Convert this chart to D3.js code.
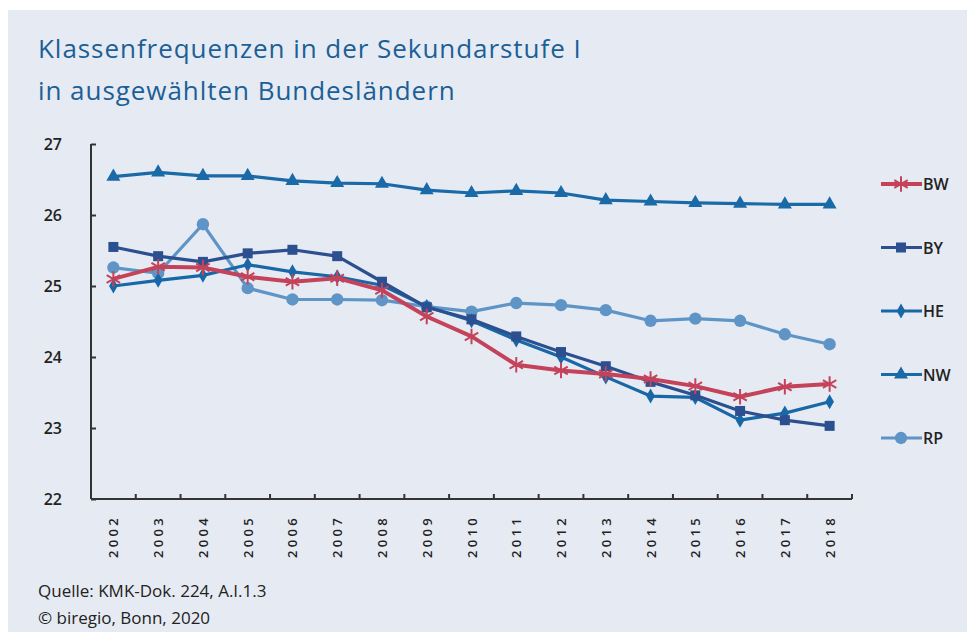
<!DOCTYPE html>
<html>
<head>
<meta charset="utf-8">
<script src="https://cdn.jsdelivr.net/npm/d3@7"></script>
<style>
  body { margin: 0; background: #fff; }
  svg { display: block; }
</style>
</head>
<body>
<svg width="967" height="632"></svg>
<script>
var years = ["2002","2003","2004","2005","2006","2007","2008","2009","2010",
             "2011","2012","2013","2014","2015","2016","2017","2018"];
var yTicks = [22, 23, 24, 25, 26, 27];

var BW = [25.10, 25.27, 25.26, 25.13, 25.06, 25.11, 24.94, 24.57, 24.29, 23.89, 23.81, 23.76, 23.69, 23.59, 23.44, 23.58, 23.62];
var BY = [25.55, 25.42, 25.34, 25.46, 25.51, 25.42, 25.06, 24.70, 24.53, 24.29, 24.07, 23.87, 23.65, 23.46, 23.24, 23.11, 23.03];
var HE = [25.00, 25.08, 25.15, 25.30, 25.20, 25.13, 25.01, 24.71, 24.51, 24.24, 24.00, 23.72, 23.45, 23.43, 23.11, 23.21, 23.37];
var NW = [26.54, 26.60, 26.55, 26.55, 26.48, 26.45, 26.44, 26.35, 26.31, 26.34, 26.31, 26.21, 26.19, 26.17, 26.16, 26.15, 26.15];
var RP = [25.26, 25.18, 25.87, 24.97, 24.81, 24.81, 24.80, 24.71, 24.64, 24.76, 24.73, 24.66, 24.51, 24.54, 24.51, 24.32, 24.18];

var series = [
    {name: "BW", values: BW, color: "#c4435a", width: 4, symbol: "star"},
    {name: "BY", values: BY, color: "#2c4f8f", width: 3.2, symbol: "square"},
    {name: "HE", values: HE, color: "#1867a6", width: 3.2, symbol: "diamond"},
    {name: "NW", values: NW, color: "#1a6aa8", width: 3.2, symbol: "triangle"},
    {name: "RP", values: RP, color: "#5f95c6", width: 3.2, symbol: "circle"}
];

var svg = d3.select("svg");

// panel
svg.append("rect")
    .attr("x", 8).attr("y", 10)
    .attr("width", 967).attr("height", 632)
    .attr("fill", "#e6ebf3");

var titleFont = "'Open Sans', sans-serif";
svg.append("text")
    .attr("x", 38).attr("y", 58)
    .attr("fill", "#1c5f97")
    .attr("font-family", titleFont)
    .attr("font-size", 26)
    .attr("letter-spacing", 0.95)
    .text("Klassenfrequenzen in der Sekundarstufe I");
svg.append("text")
    .attr("x", 38).attr("y", 100)
    .attr("fill", "#1c5f97")
    .attr("font-family", titleFont)
    .attr("font-size", 26)
    .attr("letter-spacing", 0.95)
    .text("in ausgewählten Bundesländern");

var x = d3.scaleBand().domain(years).range([91, 852]);
var y = d3.scaleLinear().domain([22, 27]).range([499, 144]);

var axisColor = "#333";

// y axis
var gy = svg.append("g").attr("transform", "translate(91,0)")
    .call(d3.axisLeft(y).tickValues(yTicks).tickFormat(d3.format("d"))
        .tickSize(-5).tickPadding(29));
gy.select(".domain").attr("stroke", axisColor).attr("stroke-width", 2)
    .attr("d", "M0," + y(27) + "V" + y(22));
gy.selectAll(".tick line").attr("stroke", axisColor).attr("stroke-width", 2);
gy.selectAll(".tick text")
    .attr("fill", "#222")
    .attr("font-family", "'Open Sans', sans-serif")
    .attr("font-weight", 600)
    .attr("font-size", 16);

// x axis with ticks between categories
var gx = svg.append("g").attr("transform", "translate(0,499)");
gx.append("line")
    .attr("x1", 91).attr("x2", 852)
    .attr("stroke", axisColor).attr("stroke-width", 2);
gx.selectAll(".sep")
    .data(years.slice(1).concat(["end"]))
    .enter().append("line")
    .attr("x1", function (d, i) { return x(years[0]) + x.step() * (i + 1); })
    .attr("x2", function (d, i) { return x(years[0]) + x.step() * (i + 1); })
    .attr("y1", 0).attr("y2", -5)
    .attr("stroke", axisColor).attr("stroke-width", 2);
gx.selectAll(".lab")
    .data(years)
    .enter().append("text")
    .attr("transform", function (d) {
        return "translate(" + (x(d) + x.bandwidth() / 2 + 5) + ",59) rotate(-90)";
    })
    .attr("fill", "#222")
    .attr("font-family", "'Open Sans', sans-serif")
    .attr("font-weight", 600)
    .attr("font-size", 13)
    .attr("letter-spacing", 3.3)
    .text(function (d) { return d; });

var line = d3.line()
    .x(function (d, i) { return x(years[i]) + x.bandwidth() / 2; })
    .y(function (d) { return y(d); });

function drawSymbol(g, type, color, cx, cy) {
    if (type === "star") {
        g.append("path")
            .attr("d", d3.symbol().type(d3.symbolAsterisk).size(170)())
            .attr("transform", "translate(" + cx + "," + cy + ")")
            .attr("fill", "none")
            .attr("stroke", color)
            .attr("stroke-width", 2);
    } else {
        var t = {square: d3.symbolSquare, diamond: d3.symbolDiamond,
                 triangle: d3.symbolTriangle, circle: d3.symbolCircle}[type];
        var s = {square: 100, diamond: 65, triangle: 85, circle: 120}[type];
        g.append("path")
            .attr("d", d3.symbol().type(t).size(s)())
            .attr("transform", "translate(" + cx + "," + cy + ")")
            .attr("fill", color);
    }
}

// draw lines: back to front
var order = ["RP", "NW", "HE", "BY", "BW"];
order.forEach(function (name) {
    var s = series.filter(function (d) { return d.name === name; })[0];
    var g = svg.append("g");
    g.append("path")
        .datum(s.values)
        .attr("d", line)
        .attr("fill", "none")
        .attr("stroke", s.color)
        .attr("stroke-width", s.width)
        .attr("stroke-linejoin", "round");
    s.values.forEach(function (v, i) {
        drawSymbol(g, s.symbol, s.color, x(years[i]) + x.bandwidth() / 2, y(v));
    });
});

// legend
var legend = svg.append("g");
series.forEach(function (s, i) {
    var ly = 184 + i * 63.5;
    var g = legend.append("g");
    g.append("line")
        .attr("x1", 881).attr("x2", 922)
        .attr("y1", ly).attr("y2", ly)
        .attr("stroke", s.color).attr("stroke-width", s.width);
    drawSymbol(g, s.symbol, s.color, 901, ly);
    g.append("text")
        .attr("x", 923).attr("y", ly + 6)
        .attr("fill", "#222")
        .attr("font-family", "'Open Sans', sans-serif")
        .attr("font-weight", 600)
        .attr("font-size", 16)
        .text(s.name);
});

var footFont = "'Open Sans', sans-serif";
svg.append("text")
    .attr("x", 38).attr("y", 597)
    .attr("fill", "#222")
    .attr("font-family", footFont)
    .attr("font-size", 17)
    .text("Quelle: KMK-Dok. 224, A.I.1.3");
svg.append("text")
    .attr("x", 38).attr("y", 624)
    .attr("fill", "#222")
    .attr("font-family", footFont)
    .attr("font-size", 17)
    .text("© biregio, Bonn, 2020");
</script>
</body>
</html>
